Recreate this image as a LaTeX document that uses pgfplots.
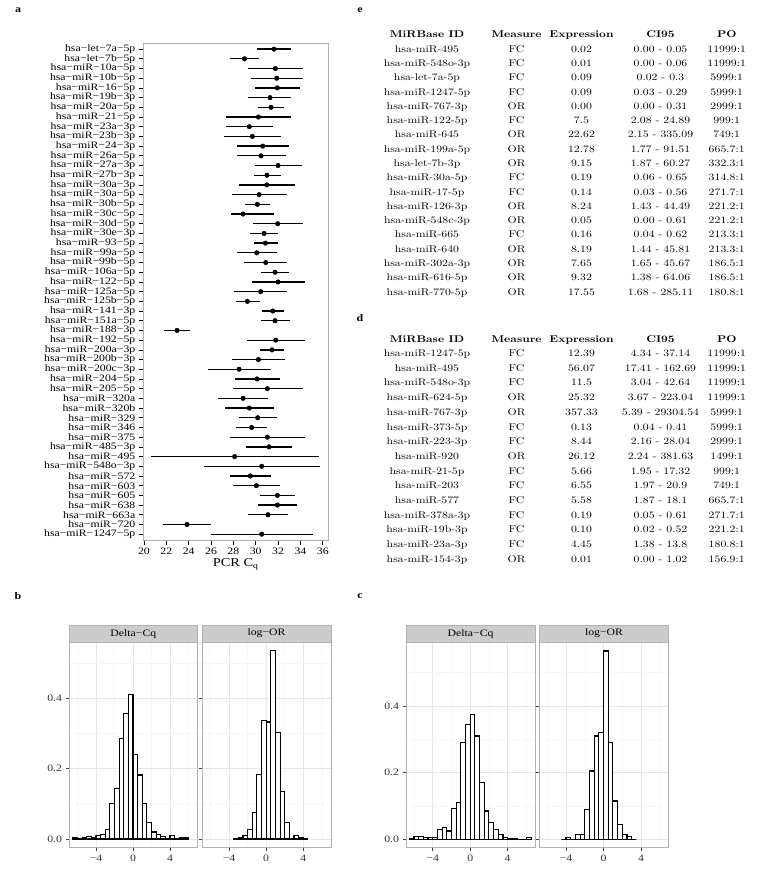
\documentclass[border=0pt]{standalone}
\usepackage{fontspec}
\setmainfont{lmroman10-regular.otf}[BoldFont=lmroman10-bold.otf, FakeStretch=1.2]
\newfontfamily\pf{Liberation Serif}[FakeStretch=1.2]
\usepackage{pgfplots}
\usepackage{pgfplotstable}
\pgfplotsset{compat=1.18}
\definecolor{bord}{gray}{0.7}
\definecolor{stripc}{gray}{0.8}
\definecolor{gmaj}{gray}{0.9}
\definecolor{gmin}{gray}{0.97}

\pgfplotstableread{
row pt lo hi
1 31.64 30.09 33.16
2 28.99 27.70 30.27
3 31.76 29.34 34.27
4 31.88 29.55 34.27
5 31.94 29.97 34.00
6 31.28 29.34 33.16
7 31.37 30.18 32.57
8 30.24 27.31 33.16
9 29.43 27.31 31.52
10 29.70 27.13 32.27
11 30.63 28.30 32.99
12 30.48 28.30 32.69
13 32.00 29.91 34.12
14 31.01 29.82 32.27
15 30.99 28.54 33.49
16 30.30 27.85 32.78
17 30.15 29.04 31.31
18 28.87 27.76 31.61
19 31.97 29.76 34.21
20 30.75 29.52 32.00
21 30.87 29.82 32.00
22 30.09 28.30 31.91
23 30.90 28.99 32.84
24 31.73 30.45 33.01
25 32.00 29.64 34.39
26 30.45 28.09 32.84
27 29.25 28.21 30.36
28 31.52 30.54 32.51
29 31.73 30.45 33.07
30 22.96 21.82 24.09
31 31.79 29.19 34.42
32 31.46 30.42 32.54
33 30.24 27.91 32.63
34 28.51 25.70 31.40
35 30.12 28.12 32.21
36 31.04 27.94 34.21
37 28.87 26.63 31.13
38 29.43 27.22 31.64
39 30.18 28.54 31.88
40 29.64 28.27 31.01
41 31.04 27.70 34.39
42 31.19 29.10 33.25
43 28.12 20.60 35.67
44 30.54 25.37 35.73
45 29.52 27.70 31.34
46 30.06 27.94 32.21
47 31.94 30.36 33.52
48 31.94 30.18 33.70
49 31.10 29.31 32.87
50 23.85 21.70 26.00
51 30.54 26.03 35.13
}\forestdata

\pgfplotsset{
  hist/.style={scale only axis, anchor=south west, height=205.4pt,
    axis line style={draw=bord, line width=0.6pt},
    tick align=outside, major tick length=3.5pt, minor tick length=0pt,
    tick style={black!75, line width=0.6pt}, tick pos=left,
    xtick={-4,0,4}, xticklabels={−4,0,4},
    minor xtick={-6,-2,2,6},
    ytick={0,0.2,0.4}, yticklabels={0.0,0.2,0.4},
    minor ytick={0.1,0.3,0.5},
    grid=both, major grid style={gmaj, line width=0.5pt}, minor grid style={gmin, line width=0.5pt},
    ticklabel style={font=\pf\fontsize{9.8}{10}\selectfont, text=black!80},
    /pgf/number format/assume math mode=true},
  bars/.style={ybar interval, fill=white, draw=black, line width=1.1pt}
}

\begin{document}
\begin{tikzpicture}
\path[use as bounding box] (0pt,0pt) rectangle (758pt,874pt);

% ---------------- panel a: forest plot
\begin{axis}[at={(143.3pt,334pt)}, anchor=south west, scale only axis,
  width=184.7pt, height=496.7pt,
  xmin=19.94, xmax=36.47, ymin=0.4, ymax=51.6, y dir=reverse,
  axis line style={draw=bord, line width=0.6pt},
  xtick={20,22,24,26,28,30,32,34,36},
  xticklabels={20,22,24,26,28,30,32,34,36},
  ytick={1,...,51},
  yticklabels={hsa−let−7a−5p, hsa−let−7b−5p, hsa−miR−10a−5p, hsa−miR−10b−5p, hsa−miR−16−5p, hsa−miR−19b−3p, hsa−miR−20a−5p, hsa−miR−21−5p, hsa−miR−23a−3p, hsa−miR−23b−3p, hsa−miR−24−3p, hsa−miR−26a−5p, hsa−miR−27a−3p, hsa−miR−27b−3p, hsa−miR−30a−3p, hsa−miR−30a−5p, hsa−miR−30b−5p, hsa−miR−30c−5p, hsa−miR−30d−5p, hsa−miR−30e−3p, hsa−miR−93−5p, hsa−miR−99a−5p, hsa−miR−99b−5p, hsa−miR−106a−5p, hsa−miR−122−5p, hsa−miR−125a−5p, hsa−miR−125b−5p, hsa−miR−141−3p, hsa−miR−151a−5p, hsa−miR−188−3p, hsa−miR−192−5p, hsa−miR−200a−3p, hsa−miR−200b−3p, hsa−miR−200c−3p, hsa−miR−204−5p, hsa−miR−205−5p, hsa−miR−320a, hsa−miR−320b, hsa−miR−329, hsa−miR−346, hsa−miR−375, hsa−miR−485−3p, hsa−miR−495, hsa−miR−548o−3p, hsa−miR−572, hsa−miR−603, hsa−miR−605, hsa−miR−638, hsa−miR−663a, hsa−miR−720, hsa−miR−1247−5p},
  tick align=outside, major tick length=4.5pt, tick pos=left,
  tick style={black, line width=0.7pt},
  ticklabel style={font=\pf\fontsize{9.8}{10}\selectfont},
  xlabel={PCR C\textsubscript{q}}, xlabel style={font=\pf\fontsize{12}{12}\selectfont, yshift=3pt},
  /pgf/number format/assume math mode=true]
\addplot[only marks, mark=*, mark size=2.3pt, black,
  error bars/.cd, x dir=both, x explicit, error mark=none,
  error bar style={line width=1.3pt, black}]
  table[x=pt, y=row, x error plus expr=\thisrow{hi}-\thisrow{pt},
        x error minus expr=\thisrow{pt}-\thisrow{lo}] {\forestdata};
\end{axis}

% ---------------- panel b
\begin{axis}[hist, at={(69pt,26.3pt)}, width=128.7pt, xmin=-6.92, xmax=6.99, ymin=-0.0247, ymax=0.5596]
\addplot[bars] coordinates {(-6.5,0.004) (-6,0) (-5.5,0.005) (-5,0.008) (-4.5,0.005) (-4,0.009) (-3.5,0.014) (-3,0.028) (-2.5,0.100) (-2,0.144) (-1.5,0.286) (-1,0.357) (-0.5,0.411) (0,0.241) (0.5,0.182) (1,0.100) (1.5,0.046) (2,0.020) (2.5,0.012) (3,0.008) (3.5,0) (4,0.009) (4.5,0) (5,0.004) (5.5,0.004) (6,0)};
\end{axis}
\begin{axis}[hist, at={(202pt,26.3pt)}, width=129pt, xmin=-6.92, xmax=6.99, ymin=-0.0247, ymax=0.5596, yticklabels={}]
\addplot[bars] coordinates {(-3.5,0.002) (-3,0.005) (-2.5,0.010) (-2,0.028) (-1.5,0.075) (-1,0.183) (-0.5,0.338) (0,0.333) (0.5,0.535) (1,0.303) (1.5,0.136) (2,0.046) (2.5,0) (3,0.010) (3.5,0.005) (4,0) (4.5,0)};
\end{axis}

% ---------------- panel c
\begin{axis}[hist, at={(406pt,26.3pt)}, width=129.3pt, xmin=-6.85, xmax=6.95, ymin=-0.0252, ymax=0.591]
\addplot[bars] coordinates {(-6.5,0.003) (-6,0.008) (-5.5,0.008) (-5,0.005) (-4.5,0.005) (-4,0.005) (-3.5,0.030) (-3,0.035) (-2.5,0.025) (-2,0.092) (-1.5,0.110) (-1,0.290) (-0.5,0.345) (0,0.375) (0.5,0.310) (1,0.170) (1.5,0.085) (2,0.050) (2.5,0.030) (3,0.015) (3.5,0.005) (4,0.003) (4.5,0.003) (5,0) (5.5,0) (6,0.005) (6.5,0)};
\end{axis}
\begin{axis}[hist, at={(539.3pt,26.3pt)}, width=129.4pt, xmin=-6.85, xmax=6.95, ymin=-0.0252, ymax=0.591, yticklabels={}]
\addplot[bars] coordinates {(-4.5,0) (-4,0.005) (-3.5,0) (-3,0.015) (-2.5,0.015) (-2,0.090) (-1.5,0.205) (-1,0.310) (-0.5,0.320) (0,0.565) (0.5,0.290) (1,0.115) (1.5,0.045) (2,0.015) (2.5,0.008) (3,0) (3.5,0)};
\end{axis}

\begin{scope}[x=1pt,y=1pt]
% panel labels
\node[font=\pf\bfseries\fontsize{10}{10}\selectfont] at (18,864) {a};
\node[font=\pf\bfseries\fontsize{10}{10}\selectfont] at (360,864) {e};
\node[font=\pf\bfseries\fontsize{10}{10}\selectfont] at (360,556) {d};
\node[font=\pf\bfseries\fontsize{10}{10}\selectfont] at (18,278) {b};
\node[font=\pf\bfseries\fontsize{10}{10}\selectfont] at (360,278) {c};

% strips
\begin{scope}[font=\pf\fontsize{9.8}{10}\selectfont]
\draw[bord, fill=stripc, line width=0.6pt] (69,231.7) rectangle (197.7,249);
\node at (133.35,240.35) {Delta−Cq};
\draw[bord, fill=stripc, line width=0.6pt] (202,231.7) rectangle (331,249);
\node at (266.5,240.35) {log−OR};
\draw[bord, fill=stripc, line width=0.6pt] (406,231.7) rectangle (535.3,249);
\node at (470.65,240.35) {Delta−Cq};
\draw[bord, fill=stripc, line width=0.6pt] (539.3,231.7) rectangle (668.7,249);
\node at (604,240.35) {log−OR};
\end{scope}

% tables
\begin{scope}[font=\fontsize{9.8}{12}\selectfont]
\foreach \cx/\h in {427/MiRBase ID, 516.5/Measure, 581.5/Expression, 660.5/CI95, 726.7/PO} {
  \node[anchor=base, font=\bfseries\fontsize{9.8}{12}\selectfont] at (\cx, 874-37.6) {\h};
  \node[anchor=base, font=\bfseries\fontsize{9.8}{12}\selectfont] at (\cx, 874-342.6) {\h};
}
\foreach \a/\b/\c/\d/\e [count=\i] in {
 hsa-miR-495/FC/0.02/0.00 - 0.05/11999:1,
 hsa-miR-548o-3p/FC/0.01/0.00 - 0.06/11999:1,
 hsa-let-7a-5p/FC/0.09/0.02 - 0.3/5999:1,
 hsa-miR-1247-5p/FC/0.09/0.03 - 0.29/5999:1,
 hsa-miR-767-3p/OR/0.00/0.00 - 0.31/2999:1,
 hsa-miR-122-5p/FC/7.5/2.08 - 24.89/999:1,
 hsa-miR-645/OR/22.62/2.15 - 335.09/749:1,
 hsa-miR-199a-5p/OR/12.78/1.77 - 91.51/665.7:1,
 hsa-let-7b-3p/OR/9.15/1.87 - 60.27/332.3:1,
 hsa-miR-30a-5p/FC/0.19/0.06 - 0.65/314.8:1,
 hsa-miR-17-5p/FC/0.14/0.03 - 0.56/271.7:1,
 hsa-miR-126-3p/OR/8.24/1.43 - 44.49/221.2:1,
 hsa-miR-548c-3p/OR/0.05/0.00 - 0.61/221.2:1,
 hsa-miR-665/FC/0.16/0.04 - 0.62/213.3:1,
 hsa-miR-640/OR/8.19/1.44 - 45.81/213.3:1,
 hsa-miR-302a-3p/OR/7.65/1.65 - 45.67/186.5:1,
 hsa-miR-616-5p/OR/9.32/1.38 - 64.06/186.5:1,
 hsa-miR-770-5p/OR/17.55/1.68 - 285.11/180.8:1} {
  \pgfmathsetmacro{\yy}{874-52.3-(\i-1)*14.28}
  \node[anchor=base] at (427,\yy) {\a};
  \node[anchor=base] at (516.5,\yy) {\b};
  \node[anchor=base] at (581.5,\yy) {\c};
  \node[anchor=base] at (660.5,\yy) {\d};
  \node[anchor=base] at (726.7,\yy) {\e};
}
\foreach \a/\b/\c/\d/\e [count=\i] in {
 hsa-miR-1247-5p/FC/12.39/4.34 - 37.14/11999:1,
 hsa-miR-495/FC/56.07/17.41 - 162.69/11999:1,
 hsa-miR-548o-3p/FC/11.5/3.04 - 42.64/11999:1,
 hsa-miR-624-5p/OR/25.32/3.67 - 223.04/11999:1,
 hsa-miR-767-3p/OR/357.33/5.39 - 29304.54/5999:1,
 hsa-miR-373-5p/FC/0.13/0.04 - 0.41/5999:1,
 hsa-miR-223-3p/FC/8.44/2.16 - 28.04/2999:1,
 hsa-miR-920/OR/26.12/2.24 - 381.63/1499:1,
 hsa-miR-21-5p/FC/5.66/1.95 - 17.32/999:1,
 hsa-miR-203/FC/6.55/1.97 - 20.9/749:1,
 hsa-miR-577/FC/5.58/1.87 - 18.1/665.7:1,
 hsa-miR-378a-3p/FC/0.19/0.05 - 0.61/271.7:1,
 hsa-miR-19b-3p/FC/0.10/0.02 - 0.52/221.2:1,
 hsa-miR-23a-3p/FC/4.45/1.38 - 13.8/180.8:1,
 hsa-miR-154-3p/OR/0.01/0.00 - 1.02/156.9:1} {
  \pgfmathsetmacro{\yy}{874-356.6-(\i-1)*14.7}
  \node[anchor=base] at (427,\yy) {\a};
  \node[anchor=base] at (516.5,\yy) {\b};
  \node[anchor=base] at (581.5,\yy) {\c};
  \node[anchor=base] at (660.5,\yy) {\d};
  \node[anchor=base] at (726.7,\yy) {\e};
}
\end{scope}
\end{scope}
\end{tikzpicture}
\end{document}
